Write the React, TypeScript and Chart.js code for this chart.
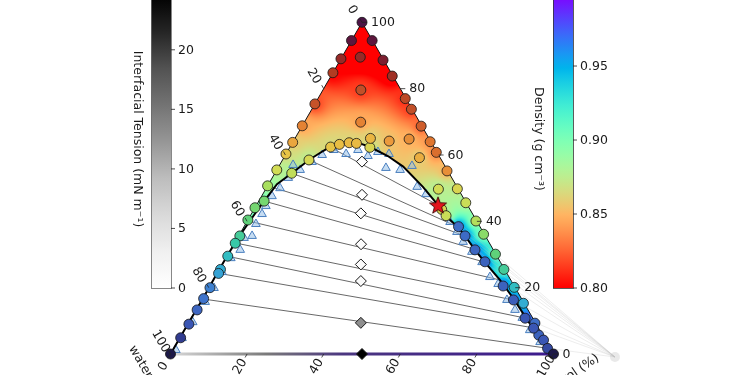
import React, { useEffect, useRef } from "react";
import { Chart, registerables } from "chart.js";

Chart.register(...registerables);

const SQ3 = Math.sqrt(3);

// Compositions are [top component %, right component %]; water = 100 - top - right.
const apexLabel = "hexane (%)";
const rightLabel = "glycerol (%)";
const waterLabel = "water";
const tensionLabel = "Interfacial Tension (mN m\u207B\u00B9)";
const densityLabel = "Density (g cm\u207B\u00B3)";

const axisTicks = [0, 20, 40, 60, 80, 100];
const tensionTicks = [0, 5, 10, 15, 20];
const tensionRange = [0, 24.6];
const densityTicks = [0.8, 0.85, 0.9, 0.95];
const densityRange = [0.8, 0.998];

// measured compositions (circles) and their densities
const circleComps: number[][] = [
  [100, 0], [94.5, 0], [89, 0], [84.8, 0], [75.4, 0], [68.8, 0], [63.8, 0], [60.3, 0],
  [55.5, 0], [50.7, 0], [44.1, 0], [40.4, 0], [35.6, 0.3], [33.4, 0.2], [29.5, 0.2],
  [25.5, 0.3], [24.3, 0.4], [20.0, 0.3], [16.7, 0.3], [13.3, 0.3], [9.0, 0.3], [4.9, 0.2], [0, 0],
  [46.1, 1.4], [54.5, 4.4], [58.5, 6.9],
  [62.4, 10.6], [63.2, 12.5], [63.7, 14.8], [63.5, 16.8], [62.3, 20.9],
  [89.5, 4.8], [79.6, 9.9], [69.9, 14.7], [65.0, 19.7], [64.2, 25.0], [64.8, 29.9],
  [59.2, 35.4], [49.7, 45.1], [43.6, 49.0], [41.7, 51.1],
  [94.5, 5.4], [88.6, 11.2], [83.8, 16.0], [77.0, 22.8], [73.8, 26.0], [68.7, 31.1],
  [64.0, 35.8], [60.8, 39.0], [55.2, 44.6], [49.8, 50.0], [45.6, 54.3], [40.1, 59.7],
  [36.1, 63.7], [30.1, 69.8], [25.5, 74.3], [20.1, 79.7], [15.3, 84.5], [9.3, 90.5],
  [5.7, 93.3], [4.2, 95.3], [1.7, 97.6], [0, 100],
  [38.4, 56.0], [35.6, 59.1], [31.4, 63.8], [27.8, 68.2], [20.5, 76.6], [16.3, 81.4],
  [10.8, 87.2], [7.8, 90.9],
];
const circleDensity: number[] = [
  0.74, 0.752, 0.785, 0.8, 0.818, 0.845, 0.858, 0.866,
  0.878, 0.888, 0.9, 0.905, 0.915, 0.92, 0.93,
  0.94, 0.945, 0.958, 0.962, 0.968, 0.975, 0.985, 1.0,
  0.9, 0.882, 0.876,
  0.866, 0.864, 0.863, 0.863, 0.874,
  0.785, 0.815, 0.845, 0.862, 0.855, 0.85,
  0.86, 0.878, 0.874, 0.88,
  0.752, 0.77, 0.79, 0.81, 0.815, 0.825,
  0.84, 0.835, 0.85, 0.874, 0.88, 0.885,
  0.895, 0.905, 0.915, 0.93, 0.94, 0.965,
  0.97, 0.975, 0.98, 1.0,
  0.965, 0.966, 0.968, 0.97, 0.97, 0.972,
  0.975, 0.975,
];

// binodal curve
const binodal: number[][] = [
  [0, 0], [9.0, 0], [16.6, 0.1], [24.4, 0], [29.5, 0], [33.5, 0.1], [37.4, 0.4], [42.2, 0.9],
  [46.1, 1.4], [51.2, 2.2], [54.5, 4.4], [58.5, 6.9], [60.6, 8.7], [62.4, 10.4], [63.3, 12.6],
  [63.6, 15.1], [63.5, 17.7], [62.4, 20.9], [59.7, 26.9], [56.5, 32.5], [50.4, 40.7],
  [44.9, 47.4], [40.4, 52.8], [38.3, 55.9], [35.6, 59.1], [31.4, 63.8], [27.7, 68.2],
  [22.3, 74.9], [16.9, 81.0], [10.3, 88.0], [5.7, 93.1], [1.8, 97.4], [0, 100],
];

// cloud-point (triangle) data
const triangleComps: number[][] = [
  [1.2, 0.8], [4.8, 0.6], [9.6, 1.0], [15.7, 1.2], [19.9, 1.4], [24.7, 1.1], [28.9, 1.3],
  [31.4, 2.5], [35, 1.7], [35.6, 3.5], [39.2, 2.7], [42.2, 2.8], [44.6, 2.6], [47.6, 2.7],
  [50, 3.6], [53.1, 4.2], [57, 3.5], [55.5, 6.1], [57.9, 8], [60, 9.6], [61.5, 11.9],
  [60.3, 15.7], [61.5, 18.2], [59.7, 21.7], [60.9, 23.7], [56.1, 28.2], [60.3, 26.9],
  [55.5, 32.2], [56.7, 34.7], [50.4, 39.2], [48.2, 42.6], [39.8, 53.1], [36.8, 56.4],
  [33.8, 59.5], [30.8, 63.3], [27.7, 67.5], [23.2, 71.8], [21.1, 75], [16.3, 79.7],
  [13.3, 83.3], [10.9, 86.4], [7.2, 90.2], [3.6, 94.7], [1.2, 98],
];

// feed compositions (diamonds) and interfacial tension
const feedComps: number[][] = [
  [58, 21], [48, 26], [42.4, 28.5], [33.1, 33.2], [27, 36.2], [22, 38.7], [9.4, 45], [0, 50],
];
const feedTension: number[] = [0.2, 0.3, 0.4, 0.6, 0.9, 1.3, 13, 24.6];

// tie lines
const tieLeft: number[][] = [
  [62.4, 10.4], [58.5, 6.9], [54.5, 4.4], [50.7, 0], [46.1, 1.4], [40.1, 0.2],
  [33.5, 0.1], [29.5, 0], [24.4, 0], [16.6, 0.1], [0, 0],
];
const tieRight: number[][] = [
  [44.9, 47.4], [38.3, 55.9], [35.6, 59.1], [31.4, 64.1], [27.7, 68.2], [22.3, 74.9],
  [16.3, 81.3], [10.85, 87.1], [7.8, 91.25], [1.8, 97.1], [0, 100],
];

const plaitPoint: number[] = [44.9, 47.4];
const strayPoint: number[] = [-0.9, 116.5];

// ---------- helpers ----------
const toXY = (c: number[]) => ({ x: c[1] + c[0] / 2, y: (c[0] * SQ3) / 2 });

function rainbowR(v: number): number[] {
  let n = (v - densityRange[0]) / (densityRange[1] - densityRange[0]);
  n = Math.max(0, Math.min(1, n));
  const x = 1 - n;
  const r = Math.min(1, Math.abs(2 * x - 0.5));
  const g = Math.sin(Math.PI * x);
  const b = Math.cos((Math.PI * x) / 2);
  return [Math.round(r * 255), Math.round(g * 255), Math.round(b * 255)];
}

const greysStops = ["#ffffff", "#f0f0f0", "#d9d9d9", "#bdbdbd", "#969696", "#737373", "#525252", "#252525", "#000000"];
function hexToRgb(h: string) {
  return [parseInt(h.slice(1, 3), 16), parseInt(h.slice(3, 5), 16), parseInt(h.slice(5, 7), 16)];
}
function greys(n: number) {
  n = Math.max(0, Math.min(1, n));
  const f = n * (greysStops.length - 1);
  const i = Math.min(greysStops.length - 2, Math.floor(f));
  const t = f - i;
  const a = hexToRgb(greysStops[i]), b = hexToRgb(greysStops[i + 1]);
  const c = a.map((v, k) => Math.round(v + (b[k] - v) * t));
  return `rgb(${c[0]},${c[1]},${c[2]})`;
}

const markerStopV = [0.74, 0.76, 0.78, 0.8, 0.82, 0.84, 0.855, 0.865, 0.878, 0.89, 0.905, 0.92, 0.935, 0.95, 0.962, 0.975, 0.988, 1.0];
const markerStopC = ["#4b1445", "#6b1838", "#8e2428", "#b23c22", "#c8552a", "#e0762f", "#eb9a3c", "#e9c245", "#d2dc55", "#a0e060", "#5fd27a", "#38c8a8", "#2fb8cf", "#3a98d8", "#3f74cc", "#3a56b4", "#2e3484", "#1c1848"];
function markerColor(v: number) {
  if (v <= markerStopV[0]) return markerStopC[0];
  for (let i = 0; i < markerStopV.length - 1; i++) {
    if (v <= markerStopV[i + 1]) {
      const t = (v - markerStopV[i]) / (markerStopV[i + 1] - markerStopV[i]);
      const a = hexToRgb(markerStopC[i]), b = hexToRgb(markerStopC[i + 1]);
      const c = a.map((q, k) => Math.round(q + (b[k] - q) * t));
      return `rgb(${c[0]},${c[1]},${c[2]})`;
    }
  }
  return markerStopC[markerStopC.length - 1];
}

function idw(X: number, Y: number, pts: { x: number; y: number }[], vals: number[]) {
  let sw = 0, sv = 0;
  for (let i = 0; i < pts.length; i++) {
    const dx = X - pts[i].x, dy = Y - pts[i].y;
    const d2 = dx * dx + dy * dy;
    if (d2 < 1e-6) return vals[i];
    const w = 1 / Math.pow(d2, 1.2);
    sw += w;
    sv += w * vals[i];
  }
  return sv / sw;
}

function makeStar(): HTMLCanvasElement {
  const c = document.createElement("canvas");
  c.width = 22; c.height = 22;
  const g = c.getContext("2d")!;
  g.beginPath();
  for (let i = 0; i < 10; i++) {
    const a = -Math.PI / 2 + (i * Math.PI) / 5;
    const rr = i % 2 === 0 ? 9 : 3.8;
    g.lineTo(11 + rr * Math.cos(a), 11.8 + rr * Math.sin(a));
  }
  g.closePath();
  g.fillStyle = "#e3141c";
  g.fill();
  g.lineWidth = 0.9;
  g.strokeStyle = "#3a0000";
  g.stroke();
  return c;
}

const pix = (chart: any, c: number[]) => {
  const p = toXY(c);
  return [chart.scales.x.getPixelForValue(p.x), chart.scales.y.getPixelForValue(p.y)];
};

const FONT = '12.5px "DejaVu Sans", sans-serif';
const TEXT = "#1a1a1a";
const CB_TOP = -5, CB_BOTTOM = 288, CB_W = 20;
const CB_LEFT_X = 151, CB_RIGHT_X = 553;

const fieldPlugin = {
  id: "densityField",
  beforeDatasetsDraw(chart: any) {
    const { ctx, scales } = chart;
    const xs = scales.x, ys = scales.y;
    const W = chart.width, H = chart.height;
    const pts = circleComps.map(toXY);
    const off = document.createElement("canvas");
    off.width = W; off.height = H;
    const octx = off.getContext("2d")!;
    const img = octx.createImageData(W, H);
    const [ax, ay] = pix(chart, [100, 0]);
    const [lx, ly] = pix(chart, [0, 0]);
    const [rx] = pix(chart, [0, 100]);
    const xa = Math.max(0, Math.floor(lx) - 1), xb = Math.min(W - 1, Math.ceil(rx) + 1);
    const ya = Math.max(0, Math.floor(ay) - 1), yb = Math.min(H - 1, Math.ceil(ly) + 1);
    for (let j = ya; j <= yb; j++) {
      const Y = ys.getValueForPixel(j + 0.5);
      for (let i = xa; i <= xb; i++) {
        const X = xs.getValueForPixel(i + 0.5);
        const v = idw(X, Y, pts, circleDensity);
        const c = rainbowR(v);
        const k = (j * W + i) * 4;
        img.data[k] = c[0]; img.data[k + 1] = c[1]; img.data[k + 2] = c[2]; img.data[k + 3] = 255;
      }
    }
    octx.putImageData(img, 0, 0);
    ctx.save();
    ctx.beginPath();
    ctx.moveTo(ax, ay); ctx.lineTo(lx, ly); ctx.lineTo(rx, ly); ctx.closePath();
    binodal.forEach((c, i) => {
      const [x, y] = pix(chart, c);
      if (i) ctx.lineTo(x, y); else ctx.moveTo(x, y);
    });
    ctx.closePath();
    ctx.clip("evenodd");
    ctx.drawImage(off, 0, 0);
    ctx.restore();
    ctx.save();
    ctx.strokeStyle = "#111";
    ctx.lineWidth = 1;
    ctx.beginPath();
    ctx.moveTo(lx, ly); ctx.lineTo(ax, ay); ctx.lineTo(rx, ly);
    ctx.stroke();
    ctx.restore();
  },
};

const annotPlugin = {
  id: "annot",
  afterDatasetsDraw(chart: any) {
    const ctx = chart.ctx;
    ctx.save();
    ctx.font = FONT;
    ctx.fillStyle = TEXT;
    ctx.strokeStyle = "#222";
    ctx.lineWidth = 0.8;

    // left axis: water %
    axisTicks.forEach((w) => {
      const [x, y] = pix(chart, [100 - w, 0]);
      ctx.beginPath(); ctx.moveTo(x, y); ctx.lineTo(x - 2, y - 3.5); ctx.stroke();
      ctx.save();
      ctx.translate(x - 10, y - 12.5);
      ctx.rotate(Math.PI / 3);
      ctx.textAlign = "center"; ctx.textBaseline = "middle";
      ctx.fillText(String(w), 0, 0);
      ctx.restore();
    });
    // right axis: top component %
    axisTicks.forEach((t) => {
      const [x, y] = pix(chart, [t, 100 - t]);
      ctx.beginPath(); ctx.moveTo(x, y); ctx.lineTo(x + 5, y); ctx.stroke();
      ctx.textAlign = "left"; ctx.textBaseline = "middle";
      ctx.fillText(String(t), x + 9, y + 0.5);
    });
    // bottom axis: right component %
    axisTicks.forEach((r) => {
      const [x, y] = pix(chart, [0, r]);
      ctx.beginPath(); ctx.moveTo(x, y); ctx.lineTo(x - 2, y + 3.5); ctx.stroke();
      ctx.save();
      ctx.translate(x - 7, y + 12.5);
      ctx.rotate(-Math.PI / 3);
      ctx.textAlign = "center"; ctx.textBaseline = "middle";
      ctx.fillText(String(r), 0, 0);
      ctx.restore();
    });
    {
      const [x, y] = pix(chart, [0, 0]);
      ctx.save();
      ctx.translate(x - 30, y + 8);
      ctx.rotate(Math.PI / 3);
      ctx.textAlign = "center"; ctx.textBaseline = "middle";
      ctx.fillText(waterLabel, 0, 0);
      ctx.restore();
    }
    {
      const [x, y] = pix(chart, [0, 100]);
      ctx.save();
      ctx.translate(x + 44.5, y + 3);
      ctx.rotate(-0.6);
      ctx.textAlign = "right"; ctx.textBaseline = "middle";
      ctx.fillText(rightLabel, 0, 0);
      ctx.restore();
    }
    {
      const [x, y] = pix(chart, [100, 0]);
      ctx.textAlign = "center"; ctx.textBaseline = "alphabetic";
      ctx.fillText(apexLabel, x + 2, y - 23.5);
    }

    // tension colorbar
    const tScale = (CB_BOTTOM - CB_TOP) / (tensionRange[1] - tensionRange[0]);
    let g = ctx.createLinearGradient(0, CB_BOTTOM, 0, CB_TOP);
    for (let s = 0; s <= 24; s++) g.addColorStop(s / 24, greys(s / 24));
    ctx.fillStyle = g;
    ctx.fillRect(CB_LEFT_X, CB_TOP, CB_W, CB_BOTTOM - CB_TOP);
    ctx.strokeStyle = "#6a6a6a";
    ctx.strokeRect(CB_LEFT_X + 0.5, CB_TOP, CB_W, CB_BOTTOM - CB_TOP + 0.5);
    ctx.fillStyle = TEXT;
    ctx.strokeStyle = "#222";
    tensionTicks.forEach((v) => {
      const y = CB_BOTTOM - (v - tensionRange[0]) * tScale;
      ctx.beginPath(); ctx.moveTo(CB_LEFT_X + CB_W, y); ctx.lineTo(CB_LEFT_X + CB_W + 4, y); ctx.stroke();
      ctx.textAlign = "left"; ctx.textBaseline = "middle";
      ctx.fillText(String(v), CB_LEFT_X + CB_W + 7, y + 0.5);
    });
    ctx.save();
    ctx.translate(137, 139);
    ctx.rotate(Math.PI / 2);
    ctx.textAlign = "center"; ctx.textBaseline = "middle";
    ctx.fillText(tensionLabel, 0, 0);
    ctx.restore();

    // density colorbar
    const dScale = (CB_BOTTOM - CB_TOP) / (densityRange[1] - densityRange[0]);
    g = ctx.createLinearGradient(0, CB_BOTTOM, 0, CB_TOP);
    for (let s = 0; s <= 40; s++) {
      const v = densityRange[0] + ((densityRange[1] - densityRange[0]) * s) / 40;
      const c = rainbowR(v);
      g.addColorStop(s / 40, `rgb(${c[0]},${c[1]},${c[2]})`);
    }
    ctx.fillStyle = g;
    ctx.fillRect(CB_RIGHT_X, CB_TOP, CB_W, CB_BOTTOM - CB_TOP);
    ctx.strokeStyle = "#333";
    ctx.strokeRect(CB_RIGHT_X + 0.5, CB_TOP, CB_W, CB_BOTTOM - CB_TOP + 0.5);
    ctx.fillStyle = TEXT;
    ctx.strokeStyle = "#222";
    densityTicks.forEach((v) => {
      const y = CB_BOTTOM - (v - densityRange[0]) * dScale;
      ctx.beginPath(); ctx.moveTo(CB_RIGHT_X + CB_W, y); ctx.lineTo(CB_RIGHT_X + CB_W + 4, y); ctx.stroke();
      ctx.textAlign = "left"; ctx.textBaseline = "middle";
      ctx.fillText(v.toFixed(2), CB_RIGHT_X + CB_W + 7, y + 0.5);
    });
    ctx.save();
    ctx.translate(538, 139);
    ctx.rotate(Math.PI / 2);
    ctx.textAlign = "center"; ctx.textBaseline = "middle";
    ctx.fillText(densityLabel, 0, 0);
    ctx.restore();

    ctx.restore();
  },
};

export default function App() {
  const ref = useRef<HTMLCanvasElement>(null);
  useEffect(() => {
    const canvas = ref.current!;
    const star = makeStar();
    const n = tieLeft.length;

    const bottomGradient = (c: any) => {
      const ch = c.chart;
      const xs = ch && ch.scales && ch.scales.x;
      if (!xs) return "#3d1a8e";
      const x0 = xs.getPixelForValue(0), x1 = xs.getPixelForValue(100);
      if (!isFinite(x0) || !isFinite(x1) || x0 === x1) return "#3d1a8e";
      const gr = ch.ctx.createLinearGradient(x0, 0, x1, 0);
      gr.addColorStop(0, "#d8d8d8");
      gr.addColorStop(0.25, "#7a7a7a");
      gr.addColorStop(0.45, "#4b3680");
      gr.addColorStop(1, "#3d1a8e");
      return gr;
    };

    const tieSets = tieLeft.map((l, i) => {
      const last = i === n - 1;
      return {
        data: [toXY(l), toXY(tieRight[i])],
        showLine: true,
        pointRadius: 0,
        borderWidth: last ? 3 : 0.8,
        borderColor: last ? bottomGradient : "rgba(45,45,45,0.9)",
        order: 10,
      };
    });
    const faintSets = tieRight.slice(0, n - 1).map((r) => ({
      data: [toXY(r), toXY(strayPoint)],
      showLine: true,
      pointRadius: 0,
      borderWidth: 1,
      borderColor: "rgba(190,190,190,0.28)",
      order: 12,
    }));

    const chart = new Chart(canvas, {
      type: "scatter",
      data: {
        datasets: [
          ...faintSets,
          {
            data: [toXY(strayPoint)],
            pointRadius: 5,
            backgroundColor: "rgba(215,215,215,0.55)",
            borderWidth: 0,
            order: 12,
          },
          ...tieSets,
          {
            data: binodal.map(toXY),
            showLine: true,
            pointRadius: 0,
            borderColor: "#000",
            borderWidth: 2,
            order: 7,
          },
          {
            data: triangleComps.map(toXY),
            pointStyle: "triangle",
            pointRadius: 5,
            backgroundColor: "rgba(150,192,232,0.55)",
            borderColor: "#4a7fbf",
            borderWidth: 1,
            order: 8,
          },
          {
            data: circleComps.map(toXY),
            pointRadius: 5,
            backgroundColor: circleDensity.map(markerColor),
            borderColor: "#151515",
            borderWidth: 0.8,
            order: 4,
          },
          {
            data: feedComps.map(toXY),
            pointStyle: "rectRot",
            pointRadius: 5.5,
            backgroundColor: feedTension.map((v) => greys((v - tensionRange[0]) / (tensionRange[1] - tensionRange[0]))),
            borderColor: "#151515",
            borderWidth: 1,
            order: 3,
          },
          {
            data: [toXY(plaitPoint)],
            pointStyle: star,
            pointRadius: 9,
            order: 1,
          },
        ] as any,
      },
      options: {
        animation: false,
        responsive: false,
        devicePixelRatio: 1,
        events: [],
        layout: { padding: 0, autoPadding: false },
        plugins: { legend: { display: false }, tooltip: { enabled: false } },
        elements: { line: { tension: 0 } },
        scales: {
          x: { type: "linear", min: -44.52, max: 151.31, display: false },
          y: { type: "linear", min: -5.48, max: 92.43, display: false },
        },
      } as any,
      plugins: [fieldPlugin, annotPlugin] as any,
    });
    return () => chart.destroy();
  }, []);
  return (
    <div style={{ position: "absolute", left: 0, top: 0, width: 750, height: 375, background: "#fff" }}>
      <canvas ref={ref} width={750} height={375} style={{ display: "block", width: 750, height: 375 }} />
    </div>
  );
}
